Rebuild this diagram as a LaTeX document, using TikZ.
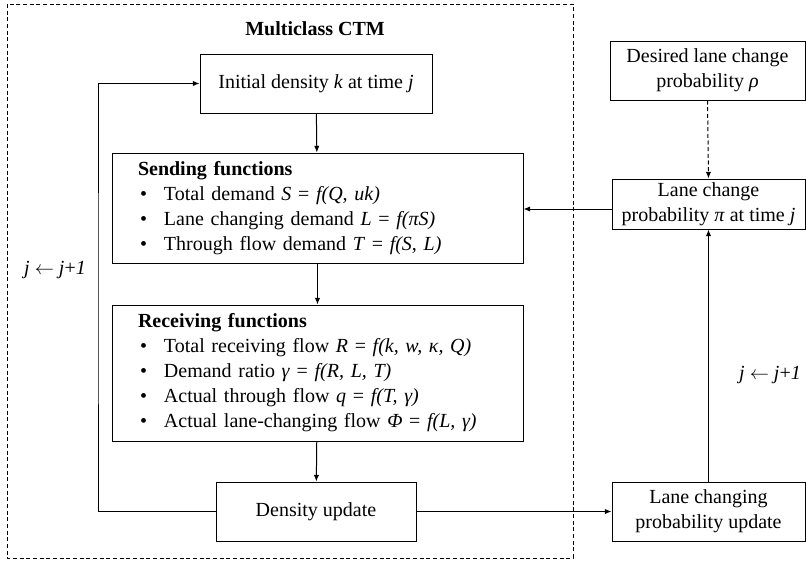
\documentclass[tikz,border=0pt]{standalone}
\usepackage{fontspec}
\setmainfont{Liberation Serif}
\usetikzlibrary{arrows.meta}
\begin{document}
\begin{tikzpicture}[x=0.75pt,y=-0.75pt,
  every node/.style={font=\fontsize{15}{18.75}\selectfont},
  box/.style={draw,line width=0.75pt,rectangle,inner sep=0pt,align=center},
  listbox/.style={draw,line width=0.75pt,rectangle,inner xsep=19.5pt,inner ysep=0pt,align=left},
  conn/.style={line width=0.75pt,-{Latex[length=5pt,width=4pt]}},
  dconn/.style={line width=0.75pt,dash pattern=on 3pt off 2pt,-{Latex[length=5pt,width=4pt]}},
  frame/.style={line width=0.75pt,dash pattern=on 3pt off 2pt}]
\useasboundingbox (0,0) rectangle (806,565);
\draw[frame] (7,4) rectangle (573,558);
\node[font=\fontsize{15}{18.75}\selectfont\bfseries] (title) at (315,29) {Multiclass CTM};
\node[box,minimum width=232*0.75pt,minimum height=59*0.75pt] (init) at (316,83.5) {Initial density \textit{k} at time \textit{j}};
\newcommand{\bul}{\makebox[19.5pt][l]{\hspace*{1.5pt}•}}
\node[listbox,minimum width=411*0.75pt,minimum height=110*0.75pt,text width=359*0.75pt] (send) at (317.5,208) {\textbf{Sending functions}\\
\bul Total demand \textit{S} = \textit{f(Q, uk)}\\
\bul Lane changing demand \textit{L} = \textit{f(πS)}\\
\bul Through flow demand \textit{T} = \textit{f(S, L)}};
\node[listbox,minimum width=411*0.75pt,minimum height=136*0.75pt,text width=359*0.75pt] (recv) at (317.5,373) {\textbf{Receiving functions}\\
\bul Total receiving flow \textit{R} = \textit{f(k, w, κ, Q)}\\
\bul Demand ratio \textit{γ} = \textit{f(R, L, T)}\\
\bul Actual through flow \textit{q} = \textit{f(T, γ)}\\
\bul Actual lane-changing flow \textit{Φ} = \textit{f(L, γ)}};
\node[box,minimum width=200*0.75pt,minimum height=59*0.75pt] (dens) at (316,511.5) {Density update};
\node[box,minimum width=195*0.75pt,minimum height=59*0.75pt] (desired) at (707.5,70.5) {Desired lane change\\probability \textit{ρ}};
\node[box,minimum width=193*0.75pt,minimum height=50*0.75pt] (lcp) at (708.5,204) {Lane change\\probability \textit{π} at time \textit{j}};
\node[box,minimum width=193*0.75pt,minimum height=59*0.75pt] (upd) at (708.5,511.5) {Lane changing\\probability update};
\coordinate (lmid) at (98,300);
\coordinate (lcpin) at ([yshift=-3.75pt]lcp.west);
\draw[conn] (init) -- (send);
\draw[conn] (send) -- (recv);
\draw[conn] (recv) -- (dens);
\draw[conn] (dens.west) -| (lmid) |- (init.west);
\draw[conn] (dens.east) -- (upd.west);
\draw[conn] (upd.north) -- (lcp.south);
\draw[dconn] (desired.south) -- (lcp.north);
\draw[conn] (lcpin) -- (send.east |- lcpin);
\node (jl) at (55,270) {\textit{j} $\leftarrow$ \textit{j}+\textit{1}};
\node (jr) at (770,375) {\textit{j} $\leftarrow$ \textit{j}+\textit{1}};
\end{tikzpicture}
\end{document}
